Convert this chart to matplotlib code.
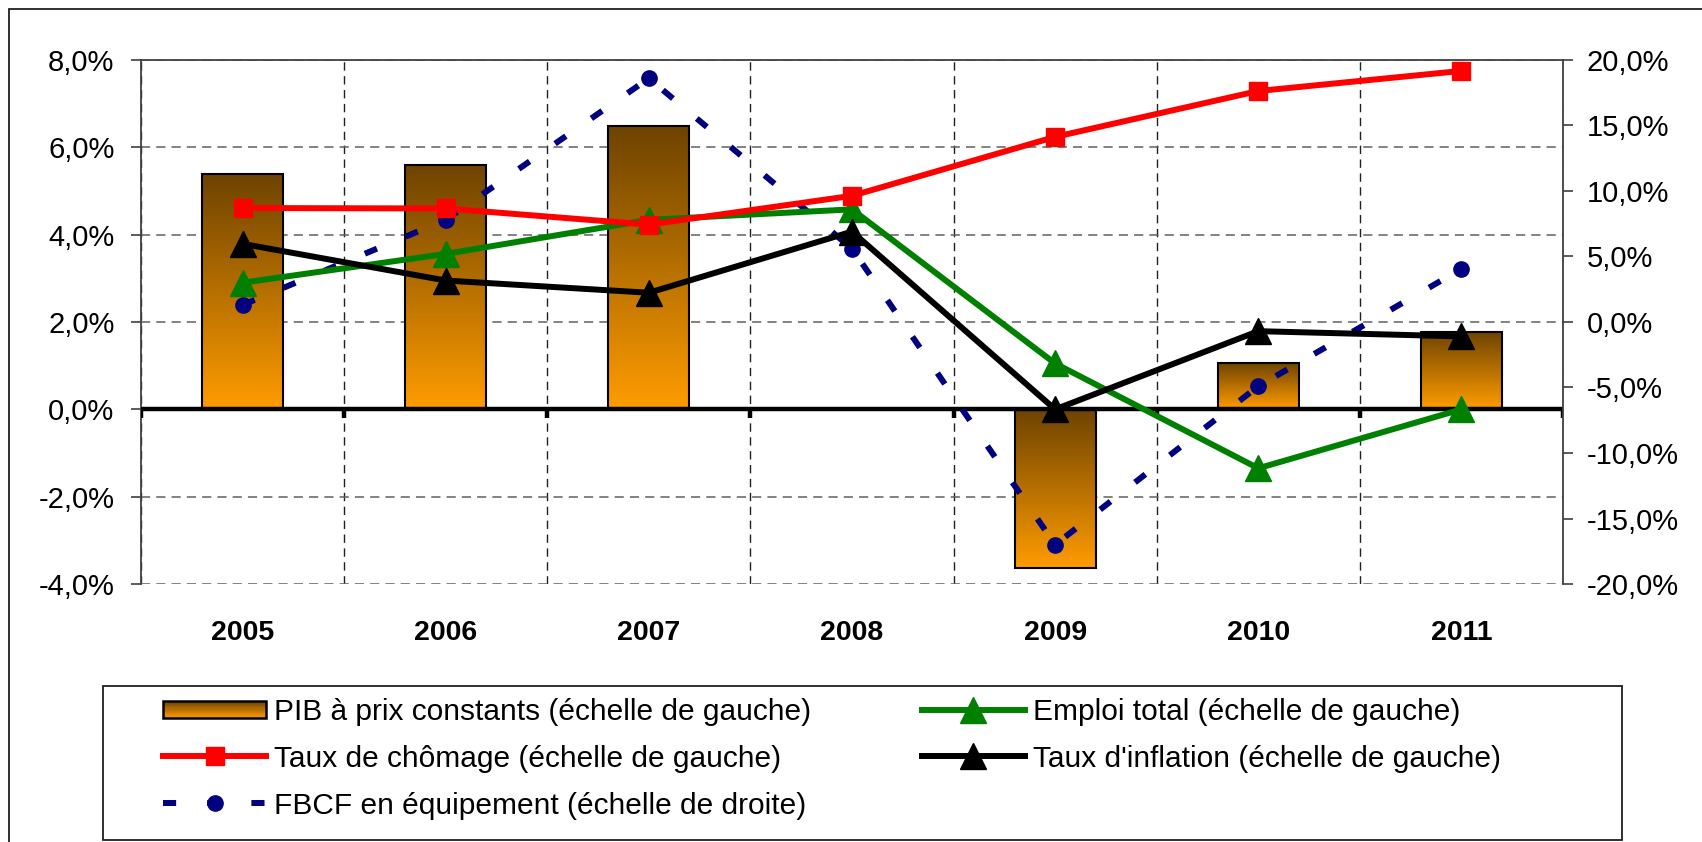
import numpy as np
import matplotlib
matplotlib.use('Agg')
import matplotlib.pyplot as plt
from matplotlib.colors import LinearSegmentedColormap
from matplotlib.legend_handler import HandlerBase
from matplotlib.patches import Rectangle
from matplotlib.ticker import FuncFormatter

plt.rcParams['font.family'] = ['Liberation Sans', 'DejaVu Sans']

# Donnees (en %)
annees = ['2005', '2006', '2007', '2008', '2009', '2010', '2011']
pib = [5.38, 5.59, 6.48, 0.0, -3.64, 1.07, 1.78]
chomage = [4.61, 4.60, 4.23, 4.89, 6.24, 7.29, 7.75]
emploi = [2.90, 3.56, 4.34, 4.58, 1.05, -1.35, 0.0]
inflation = [3.79, 2.95, 2.67, 4.07, 0.0, 1.79, 1.67]
fbcf = [1.3, 7.8, 18.6, 5.6, -17.0, -4.9, 4.05]   # echelle de droite

lab_pib = "PIB à prix constants (échelle de gauche)"
lab_chom = "Taux de chômage (échelle de gauche)"
lab_fbcf = "FBCF en équipement (échelle de droite)"
lab_emploi = "Emploi total (échelle de gauche)"
lab_infl = "Taux d'inflation (échelle de gauche)"

ticks_gauche = np.arange(-4, 8.1, 2)
ticks_droite = np.arange(-20, 20.1, 5)

cmap_pib = LinearSegmentedColormap.from_list('pib', ['#6e4300', '#ff9c00'])


class HandlerDegrade(HandlerBase):
    # petit rectangle en degrade pour la legende des barres
    def create_artists(self, legend, orig_handle, xdescent, ydescent,
                       width, height, fontsize, trans):
        arts = []
        n = 14
        h = height * 0.8
        y0 = -ydescent + (height - h) / 2
        for i in range(n):
            c = cmap_pib(1 - (i + 0.5) / n)
            arts.append(Rectangle((-xdescent, y0 + h * i / n), width, h / n,
                                  facecolor=c, edgecolor='none', transform=trans))
        arts.append(Rectangle((-xdescent, y0), width, h, fill=False,
                              edgecolor='black', lw=1.8, transform=trans))
        return arts


fmt = FuncFormatter(lambda v, p: ('%.1f%%' % v).replace('.', ','))

fig = plt.figure(figsize=(17.02, 8.42), dpi=100)
ax = fig.add_axes([141 / 1702, 1 - 584 / 842, (1563 - 141) / 1702, (584 - 60) / 842])
ax2 = ax.twinx()

x = np.arange(len(annees))

# Barres avec degrade
bars = ax.bar(x, pib, width=0.4, facecolor='none', edgecolor='black', lw=1.5, zorder=3)
grad = np.linspace(0, 1, 256).reshape(-1, 1)
for b in bars:
    if b.get_height() == 0:
        continue
    x0, y0 = b.get_x(), b.get_y()
    x1, y1 = x0 + b.get_width(), y0 + b.get_height()
    im = ax.imshow(grad, cmap=cmap_pib, aspect='auto', origin='upper',
                   extent=(x0, x1, min(y0, y1), max(y0, y1)), zorder=2.5)
    im.set_clip_path(b)

# Axe horizontal a zero avec graduations aux limites des categories
ax.axhline(0, color='black', lw=3.2, zorder=3.5)
ax.vlines(np.arange(-0.5, len(annees)), -0.2, 0, color='black', lw=3.2, zorder=3.5)

l_fbcf, = ax.plot(x, fbcf, transform=ax2.transData, color='#000080', lw=4.3,
                  dashes=(2.2, 5.2), marker='o', markersize=11, zorder=4)
l_emp, = ax.plot(x, emploi, color='#008000', lw=4.3, marker='^', markersize=19, zorder=5)
l_chom, = ax.plot(x, chomage, color='#ff0000', lw=4.3, marker='s', markersize=13.5, zorder=5.2)
l_infl, = ax.plot(x, inflation, color='black', lw=4.3, marker='^', markersize=19, zorder=5.4)

ax.set_xlim(-0.5, len(annees) - 0.5)
ax.set_ylim(-4, 8)
ax2.set_ylim(-20, 20)

ax.set_yticks(ticks_gauche)
ax.yaxis.set_major_formatter(fmt)
ax2.set_yticks(ticks_droite)
ax2.yaxis.set_major_formatter(fmt)

ax.set_xticks(x)
ax.set_xticklabels(annees, fontweight='bold', fontsize=20.5)
ax.set_xticks(np.arange(-0.5, len(annees)), minor=True)
ax.tick_params(axis='x', which='both', length=0, pad=26)

ax.grid(axis='y', which='major', linestyle=(0, (6, 4)), color='#606060', lw=1.1)
ax.grid(axis='x', which='minor', linestyle=(0, (6, 4)), color='#202020', lw=1.0)
ax.set_axisbelow(True)

ax.tick_params(axis='y', length=7, width=1.2, color='#404040', pad=12, labelsize=21)
ax2.tick_params(axis='y', length=7, width=1.2, color='#404040', pad=10, labelsize=21)

for s in ['bottom', 'right']:
    ax.spines[s].set_visible(False)
for s in ['left', 'top']:
    ax.spines[s].set_color('#404040')
    ax.spines[s].set_linewidth(1.3)
for s in ['bottom', 'left', 'top']:
    ax2.spines[s].set_visible(False)
ax2.spines['right'].set_color('#404040')
ax2.spines['right'].set_linewidth(1.3)

# Legende
proxy_pib = Rectangle((0, 0), 1, 1)
handles = [proxy_pib, l_chom, l_fbcf, l_emp, l_infl]
labels = [lab_pib, lab_chom, lab_fbcf, lab_emploi, lab_infl]
fig.legend(handles, labels, loc='upper left', bbox_to_anchor=(163 / 1702, 1 - 698 / 842),
           ncol=2, frameon=False, fontsize=21.5, borderpad=0, borderaxespad=0,
           handlelength=3.45, handletextpad=0.27, columnspacing=3.7, labelspacing=0.63,
           handler_map={proxy_pib: HandlerDegrade()})

# Cadres
fig.patches.append(Rectangle((103 / 1702, 1 - 840 / 842), (1622 - 103) / 1702, (840 - 686) / 842,
                             transform=fig.transFigure, fill=False, edgecolor='#202020', lw=1.3))
fig.patches.append(Rectangle((9 / 1702, -0.1), 1.2, 1.1 - 9 / 842,
                             transform=fig.transFigure, fill=False, edgecolor='#202020', lw=1.3))

fig.savefig('out.png', dpi=100)
